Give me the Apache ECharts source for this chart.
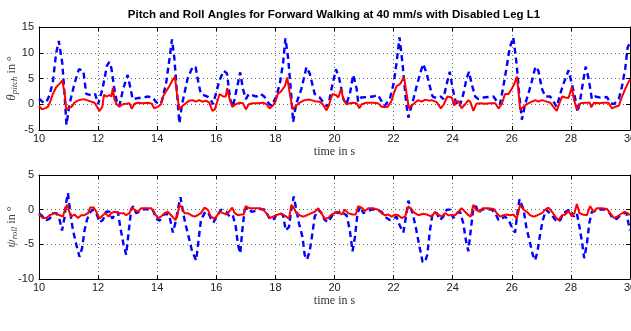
<!DOCTYPE html>
<html>
<head>
<meta charset="utf-8">
<script src="https://cdn.jsdelivr.net/npm/echarts@6/dist/echarts.min.js"></script>
<style>
  html, body { margin: 0; padding: 0; background: #fff; }
  #main { width: 631px; height: 331px; }
</style>
</head>
<body>
<div id="main"></div>
<script>
// [time in s, angle in deg]
var pitchBlue = [
    [10.0,1.1],[10.15,0.3],[10.25,0.4],[10.36,1.8],[10.47,4.4],[10.58,9.9],[10.67,12.3],[10.79,7.9],[10.87,1.4],[10.93,-4],
    [11.03,0],[11.2,4],[11.35,6.8],[11.5,6.5],[11.6,2],[11.8,1.7],[11.9,2],[12.0,0],[12.15,3],[12.3,7.5],
    [12.38,8.2],[12.45,7],[12.55,3],[12.65,0],[12.72,-0.3],[12.85,3],[13.0,5.7],[13.08,3.5],[13.17,1],[13.35,1.2],
    [13.5,1.2],[13.68,1.5],[13.85,1.3],[13.95,0.5],[14.07,0],[14.15,0.5],[14.3,4],[14.42,9],[14.5,12.6],[14.58,9],
    [14.66,3],[14.75,-3.7],[14.84,0],[15.03,5],[15.2,7.3],[15.3,7.2],[15.4,4],[15.48,2],[15.7,1.5],[15.8,1],
    [15.89,0],[15.95,-0.3],[16.1,4.5],[16.25,6.5],[16.36,6],[16.47,1],[16.56,-0.5],[16.73,4],[16.81,6.2],[16.9,3],
    [17.0,1],[17.1,2],[17.36,1.5],[17.5,2],[17.62,1.5],[17.8,0],[17.87,-0.3],[18.03,1.5],[18.15,4],[18.26,8],
    [18.34,12.8],[18.43,9],[18.52,3],[18.6,-3.5],[18.7,0],[18.88,3],[19.05,7.2],[19.16,6],[19.33,2],[19.5,1.3],
    [19.67,0],[19.78,-0.5],[19.9,3],[20.05,6.8],[20.16,5],[20.3,1],[20.4,0],[20.52,2],[20.63,5.7],[20.75,3],
    [20.8,0.5],[20.9,1.3],[21.08,1.4],[21.3,1.5],[21.47,1.8],[21.6,0.5],[21.7,-0.3],[21.87,1],[22.0,4],[22.1,8],
    [22.2,13],[22.3,8],[22.43,0],[22.5,-2.6],[22.67,1],[22.78,3.5],[22.9,6],[23.0,7.8],[23.12,6],[23.2,4],
    [23.32,1.5],[23.46,1.2],[23.6,1.5],[23.68,1],[23.8,4],[23.9,6.3],[24.0,3],[24.1,0.5],[24.23,-0.5],[24.36,2],
    [24.47,5],[24.55,6.3],[24.64,4],[24.76,1.5],[24.87,1],[25.04,1.3],[25.2,1.4],[25.38,1.5],[25.5,0.5],[25.6,0],
    [25.7,3],[25.82,7],[25.93,11],[26.05,13],[26.16,8],[26.25,2],[26.34,-3],[26.45,0],[26.56,2],[26.68,4.5],
    [26.8,7.3],[26.9,6.5],[27.02,3],[27.13,1.5],[27.3,1.5],[27.41,0.5],[27.52,-0.5],[27.64,2],[27.75,4],[27.92,6.6],
    [28.03,4],[28.15,1],[28.23,-1.5],[28.32,1],[28.43,5],[28.5,7.3],[28.6,5],[28.71,1],[28.82,1.5],[29.0,1.3],
    [29.22,1.4],[29.33,0.3],[29.45,0],[29.62,1],[29.73,3.5],[29.84,7],[29.92,11],[30.0,12]
];
var pitchRed = [
    [10.0,-0.3],[10.1,-1],[10.2,-0.8],[10.3,-0.5],[10.38,0.5],[10.47,2],[10.58,3.3],[10.7,4],[10.79,4.6],[10.87,2],
    [10.92,-1],[10.98,-1.2],[11.1,-0.5],[11.2,0.3],[11.3,0.7],[11.5,1],[11.62,0.8],[11.77,0.5],[11.88,0.3],[11.96,-0.5],
    [12.05,-1.3],[12.14,-0.5],[12.2,1.8],[12.3,1.5],[12.38,1.8],[12.45,1.5],[12.5,3.2],[12.55,1],[12.63,0],[12.72,-0.5],
    [12.83,0],[12.95,0.1],[13.06,0.2],[13.14,-0.9],[13.23,0.1],[13.34,0.3],[13.5,0.2],[13.68,0.3],[13.82,0.1],[13.9,-0.8],
    [14.02,-0.5],[14.13,0],[14.2,1.5],[14.3,2.5],[14.41,3.5],[14.52,4.7],[14.6,5.3],[14.67,2],[14.75,-1],[14.86,-0.3],
    [14.97,0.2],[15.08,0.7],[15.2,0.8],[15.3,0.5],[15.42,0.8],[15.53,0.5],[15.65,0.7],[15.76,0.3],[15.87,-1.3],[15.95,-1],
    [16.03,0.5],[16.11,2],[16.23,1.5],[16.32,1.5],[16.37,3.1],[16.45,1],[16.54,-0.5],[16.66,0],[16.79,0.3],[16.9,0.2],
    [17.0,-1],[17.1,0],[17.24,0.2],[17.41,0.2],[17.58,0.3],[17.7,0],[17.8,-0.8],[17.91,-0.3],[18.0,0.5],[18.08,2],
    [18.19,2.5],[18.32,3.5],[18.4,5.2],[18.49,2],[18.58,-1],[18.7,-0.3],[18.82,0.3],[18.99,0.8],[19.16,0.9],[19.33,0.6],
    [19.5,0.5],[19.6,0],[19.73,-1.2],[19.82,0],[19.93,2],[20.05,1.8],[20.13,1.3],[20.22,3],[20.3,1],[20.4,0],
    [20.52,0.2],[20.63,0.3],[20.75,0.2],[20.84,-0.8],[20.92,0],[21.08,0.3],[21.3,0.3],[21.47,0.2],[21.6,-0.5],[21.7,-0.6],
    [21.8,-0.5],[21.92,0.5],[22.0,2],[22.1,3.5],[22.23,4],[22.35,5.3],[22.44,2],[22.52,-0.8],[22.6,-0.3],[22.72,0.3],
    [22.83,0.8],[22.95,0.5],[23.07,0.9],[23.2,0.7],[23.29,0.8],[23.46,0.4],[23.6,-0.8],[23.7,0],[23.82,1.5],[23.97,1.3],
    [24.05,-0.3],[24.1,0.6],[24.2,0.6],[24.3,-0.8],[24.42,0],[24.53,0.8],[24.6,0.4],[24.7,-1.3],[24.8,0.1],[24.93,0.2],
    [25.1,0.1],[25.27,0.2],[25.44,0.2],[25.55,-0.8],[25.66,0],[25.77,2],[25.89,2],[26.0,3],[26.09,4],[26.17,5.4],
    [26.22,3],[26.28,-1],[26.4,-0.5],[26.5,0],[26.68,0.5],[26.8,0.8],[26.9,0.5],[27.02,0.8],[27.13,0.6],[27.3,0.3],
    [27.41,-0.5],[27.52,-1.3],[27.6,0],[27.7,1.5],[27.81,1.3],[27.92,1.2],[28.03,3.3],[28.1,1],[28.2,-1],[28.32,0.2],
    [28.5,0.3],[28.64,0.3],[28.69,-0.6],[28.78,0.3],[28.95,0.2],[29.1,0.3],[29.27,0.3],[29.39,-0.8],[29.5,-0.5],[29.62,-0.3],
    [29.73,1.5],[29.84,3],[29.95,4.3],[30.0,4.8]
];
var rollBlue = [
    [10.0,-0.5],[10.13,-1],[10.25,-1.5],[10.36,-1.3],[10.47,-0.5],[10.59,-0.5],[10.7,-1.5],[10.78,-3],[10.87,-1],[10.92,1],
    [10.98,2.4],[11.06,-0.5],[11.15,-3],[11.26,-5],[11.37,-6.8],[11.46,-5.5],[11.54,-3],[11.62,-1.5],[11.71,-0.5],[11.82,0],
    [11.94,-0.5],[12.05,-1.8],[12.16,-1.5],[12.27,-0.3],[12.39,-0.3],[12.48,-1.3],[12.56,-0.8],[12.67,-0.3],[12.75,-2.5],[12.86,-5],
    [12.95,-6.5],[13.04,-3],[13.12,0],[13.18,0.5],[13.29,-0.5],[13.4,-0.3],[13.57,0.1],[13.74,0],[13.85,0],[13.96,-1.3],
    [14.08,-1.6],[14.19,-0.8],[14.3,-0.6],[14.41,-0.8],[14.53,-3.3],[14.64,-1.5],[14.72,0.5],[14.79,1.8],[14.86,0],[14.95,-2],
    [15.07,-4],[15.18,-6],[15.32,-7.3],[15.41,-4],[15.48,-1.5],[15.6,-0.5],[15.71,-0.3],[15.82,-1.3],[15.91,-1.8],[16.0,-1],
    [16.17,0],[16.34,-0.3],[16.45,-1],[16.56,-0.8],[16.66,-2.5],[16.73,-5],[16.81,-6.3],[16.88,-3],[16.96,0],[17.07,0.3],
    [17.19,-0.3],[17.3,-0.2],[17.47,0.1],[17.64,0],[17.81,-1.3],[17.92,-1.5],[18.03,-0.8],[18.15,-0.5],[18.26,-0.8],[18.35,-3],
    [18.46,-2.5],[18.54,0],[18.62,1.9],[18.71,0],[18.8,-2],[18.92,-4],[18.99,-6.5],[19.07,-7.2],[19.16,-6],[19.25,-3.5],
    [19.33,-1],[19.45,0],[19.56,-0.5],[19.67,-1.5],[19.79,-1.8],[19.9,-1],[20.01,-0.3],[20.12,-0.5],[20.2,-0.2],[20.29,-0.5],
    [20.41,-0.8],[20.52,-3],[20.61,-6],[20.69,-4],[20.78,-0.5],[20.88,0.5],[20.97,-0.5],[21.08,-0.3],[21.25,0],[21.42,0],
    [21.59,-0.3],[21.7,-1],[21.87,-1.5],[21.99,-1.3],[22.1,-1],[22.21,-2.3],[22.33,-3.3],[22.42,-1],[22.5,1.3],[22.55,1.5],
    [22.64,-0.5],[22.75,-2.5],[22.86,-5],[22.98,-7.5],[23.06,-7.6],[23.14,-6.5],[23.23,-3],[23.32,-0.5],[23.46,-0.5],[23.57,-1.5],
    [23.68,-1],[23.8,0],[23.91,0],[24.02,-1.2],[24.14,-0.5],[24.25,-0.3],[24.36,-2],[24.45,-4.5],[24.53,-6],[24.61,-3],
    [24.7,0.3],[24.79,0.5],[24.87,-0.5],[24.98,0],[25.15,0.1],[25.32,0],[25.44,-0.5],[25.55,-1.5],[25.66,-1.3],[25.77,-1],
    [25.89,-1.5],[26.0,-2.5],[26.11,-3.3],[26.19,-0.5],[26.26,1.5],[26.32,1.7],[26.4,0],[26.49,-2.5],[26.6,-4.5],[26.71,-6.5],
    [26.79,-7.3],[26.87,-6],[26.96,-3.5],[27.05,-1.5],[27.16,0],[27.28,-0.5],[27.39,-1],[27.53,-1.8],[27.64,-1.5],[27.75,-0.5],
    [27.86,-0.2],[27.98,0],[28.09,-1],[28.2,-0.5],[28.29,-2.5],[28.37,-4.5],[28.45,-7],[28.54,-5],[28.62,-2],[28.71,-0.3],
    [28.82,-0.2],[28.99,0],[29.16,0],[29.31,-0.5],[29.42,-1.3],[29.56,-1.3],[29.67,-0.8],[29.79,-0.5],[29.88,-0.5],[29.95,-2],
    [30.0,-3]
];
var rollRed = [
    [10.0,-0.7],[10.13,-1.2],[10.25,-1.2],[10.36,-0.8],[10.53,-0.5],[10.7,-0.8],[10.81,-1],[10.89,0.2],[10.96,0.7],[11.04,-0.5],
    [11.09,-1],[11.2,-0.7],[11.32,-1.2],[11.43,-0.8],[11.54,-0.8],[11.66,-0.5],[11.73,0.3],[11.85,0.3],[11.94,-0.3],[12.05,-1.3],
    [12.16,-0.8],[12.25,-0.5],[12.36,-1],[12.44,-0.5],[12.56,-0.3],[12.64,-0.4],[12.73,-0.5],[12.86,-0.5],[12.95,-0.8],[13.06,-0.5],
    [13.14,0.3],[13.23,0],[13.34,-0.3],[13.46,0.2],[13.63,0.2],[13.8,0.2],[13.91,-0.5],[14.02,-1.2],[14.13,-1],[14.25,-0.5],
    [14.36,-0.3],[14.47,-0.8],[14.62,-1.5],[14.7,-0.5],[14.75,0.7],[14.84,0.3],[14.92,-0.5],[15.03,-0.5],[15.15,-0.8],[15.26,-1],
    [15.37,-0.8],[15.48,-0.5],[15.6,0.3],[15.71,0],[15.82,-1],[15.93,-1.3],[16.0,-1],[16.11,-0.3],[16.23,-0.5],[16.34,-0.7],
    [16.45,-0.2],[16.54,0.3],[16.62,-0.5],[16.73,-0.8],[16.85,-0.7],[16.93,-0.7],[16.99,0.5],[17.13,0.2],[17.3,0.2],[17.47,0.2],
    [17.58,0],[17.69,-0.5],[17.81,-1.2],[17.92,-1],[18.03,-0.8],[18.15,-0.6],[18.26,-0.7],[18.37,-1],[18.46,-1.3],[18.54,0.7],
    [18.62,0.3],[18.71,-0.5],[18.82,-0.8],[18.94,-1],[19.07,-0.8],[19.22,-0.5],[19.33,-0.3],[19.45,0.2],[19.56,-0.5],[19.67,-1.3],
    [19.79,-1.2],[19.9,-0.7],[20.01,-0.5],[20.12,-0.3],[20.24,-0.7],[20.35,0],[20.46,-0.5],[20.61,-0.7],[20.72,-0.7],[20.8,0.5],
    [20.92,0.3],[21.03,-0.2],[21.14,0.2],[21.31,0.2],[21.48,0],[21.59,-0.5],[21.7,-0.8],[21.82,-0.7],[21.93,-1],[22.05,-0.7],
    [22.16,-0.8],[22.27,-1.2],[22.39,-1],[22.5,0.5],[22.61,0],[22.72,-0.5],[22.84,-0.8],[23.0,-0.6],[23.12,-0.7],[23.29,-1],
    [23.4,-0.3],[23.51,-0.7],[23.63,-1],[23.74,-0.5],[23.85,-0.8],[23.97,-0.8],[24.08,-0.8],[24.19,-0.3],[24.3,0.2],[24.42,-0.3],
    [24.53,-0.8],[24.61,-1],[24.7,0.7],[24.79,0],[24.9,-0.3],[25.02,0.2],[25.21,0.2],[25.38,0.1],[25.49,-0.5],[25.6,-1],
    [25.72,-0.8],[25.83,-0.7],[25.94,-0.8],[26.06,-0.7],[26.17,-1.3],[26.28,0.7],[26.4,0],[26.51,-0.3],[26.62,-0.8],[26.74,-1],
    [26.87,-0.8],[27.02,-0.5],[27.13,0],[27.24,0.3],[27.36,-0.3],[27.47,-1],[27.58,-1.5],[27.7,-0.8],[27.81,-0.7],[27.92,-0.2],
    [28.03,-1],[28.12,-0.5],[28.2,0.8],[28.29,-0.5],[28.4,-0.7],[28.54,-0.8],[28.65,0.5],[28.77,-0.3],[28.88,0.2],[29.05,0.2],
    [29.22,0.1],[29.33,-0.5],[29.45,-1.2],[29.56,-1],[29.67,-0.7],[29.81,-0.3],[29.92,-0.5],[30.0,-0.8]
];

var timeRange = [10, 30];
var pitchRange = [-5, 15];
var rollRange = [-10, 5];

var chart = echarts.init(document.getElementById('main'));

var labelFont = { fontFamily: 'Liberation Sans', fontSize: 11, color: '#222' };
var dotted = { show: true, lineStyle: { color: '#666', type: [1, 3], width: 1 } };
var serif = 'Liberation Serif';
var blackLine = { onZero: false, lineStyle: { color: '#000' } };
var inTick = { inside: true, length: 4, lineStyle: { color: '#000' } };

function xAxes(gridIndex) {
    return [{
        type: 'value', gridIndex: gridIndex, position: 'bottom',
        min: timeRange[0], max: timeRange[1], interval: 2,
        axisLine: blackLine, axisTick: inTick,
        axisLabel: Object.assign({ margin: 3, showMaxLabel: true }, labelFont),
        splitLine: dotted,
        name: 'time in s', nameLocation: 'middle', nameGap: 16, nameMoveOverlap: false,
        nameTextStyle: { fontFamily: serif, fontSize: 12, color: '#333' }
    }, {
        type: 'value', gridIndex: gridIndex, position: 'top',
        min: timeRange[0], max: timeRange[1], interval: 2,
        axisLine: blackLine, axisTick: inTick,
        axisLabel: { show: false }, splitLine: { show: false }
    }];
}

function yAxes(gridIndex, range, sub) {
    return [{
        type: 'value', gridIndex: gridIndex, position: 'left',
        min: range[0], max: range[1], interval: 5,
        axisLine: blackLine, axisTick: inTick,
        axisLabel: Object.assign({ margin: 5 }, labelFont),
        splitLine: dotted,
        name: '{g|' + (sub === 'pitch' ? 'θ' : 'ψ') + '}{s|' + sub + '}{t| in °}',
        nameLocation: 'middle', nameRotate: 90, nameGap: 19, nameMoveOverlap: false,
        nameTextStyle: {
            rich: {
                g: { fontFamily: serif, fontStyle: 'italic', fontSize: 13, color: '#444', lineHeight: 16 },
                s: { fontFamily: serif, fontStyle: 'italic', fontSize: 9, color: '#444', lineHeight: 16, padding: [5, 0, 0, 0] },
                t: { fontFamily: serif, fontSize: 12, color: '#444', lineHeight: 16 }
            }
        }
    }, {
        type: 'value', gridIndex: gridIndex, position: 'right',
        min: range[0], max: range[1], interval: 5,
        axisLine: blackLine, axisTick: inTick,
        axisLabel: { show: false }, splitLine: { show: false }
    }];
}

function lineSeries(data, xi, yi, color, dashed) {
    return {
        type: 'line', data: data, xAxisIndex: xi, yAxisIndex: yi,
        showSymbol: false, smooth: false, silent: true,
        lineStyle: { color: color, width: dashed ? 2.4 : 2, type: dashed ? [6, 4] : 'solid' },
        z: dashed ? 2 : 3
    };
}

var option = {
    animation: false,
    backgroundColor: '#fff',
    title: {
        text: 'Pitch and Roll Angles for Forward Walking at 40 mm/s with Disabled Leg L1',
        left: 334, top: 9, padding: 0, textAlign: 'center',
        textStyle: { fontFamily: 'Liberation Sans', fontSize: 11.5, fontWeight: 'bold', color: '#000' }
    },
    grid: [
        { left: 39, right: 1, top: 27, height: 103, containLabel: false, outerBoundsMode: 'none' },
        { left: 39, right: 1, top: 175, height: 104, containLabel: false, outerBoundsMode: 'none' }
    ],
    xAxis: xAxes(0).concat(xAxes(1)),
    yAxis: yAxes(0, pitchRange, 'pitch').concat(yAxes(1, rollRange, 'roll')),
    series: [
        lineSeries(pitchBlue, 0, 0, '#0000ff', true),
        lineSeries(pitchRed, 0, 0, '#ff0000', false),
        lineSeries(rollBlue, 2, 2, '#0000ff', true),
        lineSeries(rollRed, 2, 2, '#ff0000', false)
    ]
};

chart.setOption(option);
</script>
</body>
</html>
